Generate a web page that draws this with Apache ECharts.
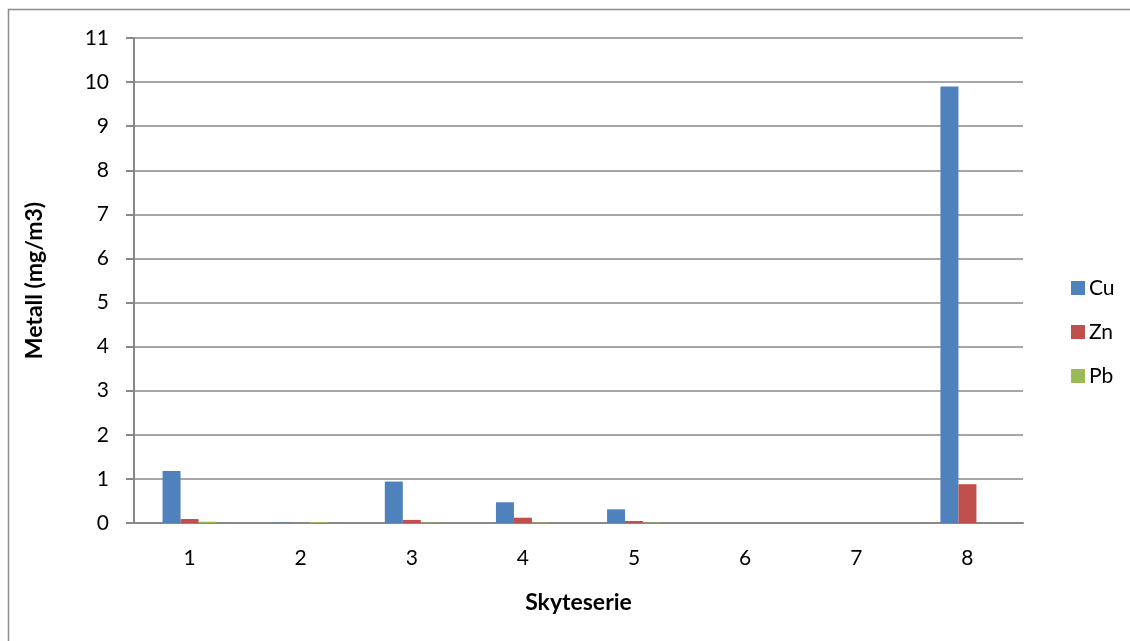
<!DOCTYPE html>
<html>
<head>
<meta charset="utf-8">
<script src="https://cdn.jsdelivr.net/npm/echarts@6/dist/echarts.min.js"></script>
<style>
  html, body { margin: 0; padding: 0; background: #fff; }
  #chart { width: 1130px; height: 641px; }
</style>
</head>
<body>
<div id="chart"></div>
<script>
// Metal concentration per shooting series
const categories = ['1', '2', '3', '4', '5', '6', '7', '8'];
const cu = [1.18, 0.01, 0.94, 0.47, 0.31, 0, 0, 9.9];
const zn = [0.09, 0, 0.07, 0.12, 0.045, 0, 0, 0.88];
const pb = [0.03, 0.02, 0.01, 0.01, 0.01, 0, 0, 0];
const yTicks = { min: 0, max: 11, interval: 1 };

const FONT = 'Lato, "Open Sans", sans-serif';
const GRID = '#888888';

const chart = echarts.init(document.getElementById('chart'));

function barSeries(name, data, color) {
  return {
    name: name,
    type: 'bar',
    data: data,
    barWidth: 18,
    barGap: '0%',
    itemStyle: { color: color },
    emphasis: { disabled: true }
  };
}

chart.setOption({
  animation: false,
  backgroundColor: '#ffffff',
  graphic: [{
    type: 'rect',
    shape: { x: 8.5, y: 9.5, width: 1140, height: 660 },
    style: { fill: 'none', stroke: '#8c8c8c', lineWidth: 1.5 },
    silent: true
  }],
  grid: { left: 134, right: 107, top: 38, bottom: 118, containLabel: false },
  legend: {
    orient: 'vertical',
    left: 1066,
    top: 271,
    itemWidth: 14,
    itemHeight: 14,
    itemGap: 20,
    icon: 'rect',
    textStyle: { fontFamily: FONT, fontSize: 21, lineHeight: 24, color: '#000', padding: [0, 0, 0, -1] },
    data: ['Cu', 'Zn', 'Pb']
  },
  xAxis: {
    type: 'category',
    data: categories,
    name: 'Skyteserie',
    nameLocation: 'middle',
    nameGap: 68,
    nameTextStyle: { fontFamily: FONT, fontSize: 23, fontWeight: 'bold', color: '#000' },
    axisLine: { lineStyle: { color: GRID, width: 2 } },
    axisTick: { show: false },
    axisLabel: { fontFamily: FONT, fontSize: 21, color: '#000', margin: 25 }
  },
  yAxis: {
    type: 'value',
    min: yTicks.min,
    max: yTicks.max,
    interval: yTicks.interval,
    name: 'Metall (mg/m3)',
    nameLocation: 'middle',
    nameGap: 88,
    nameRotate: 90,
    nameTextStyle: { fontFamily: FONT, fontSize: 23, fontWeight: 'bold', color: '#000' },
    axisLine: { show: true, lineStyle: { color: GRID, width: 2 } },
    axisTick: { show: true, length: 8, lineStyle: { color: GRID, width: 2 } },
    axisLabel: { fontFamily: FONT, fontSize: 21, color: '#000', margin: 25 },
    splitLine: { show: true, lineStyle: { color: GRID, width: 1.5 } }
  },
  series: [
    barSeries('Cu', cu, '#4f81bd'),
    barSeries('Zn', zn, '#c0504d'),
    barSeries('Pb', pb, '#9bbb59')
  ]
});
</script>
</body>
</html>
